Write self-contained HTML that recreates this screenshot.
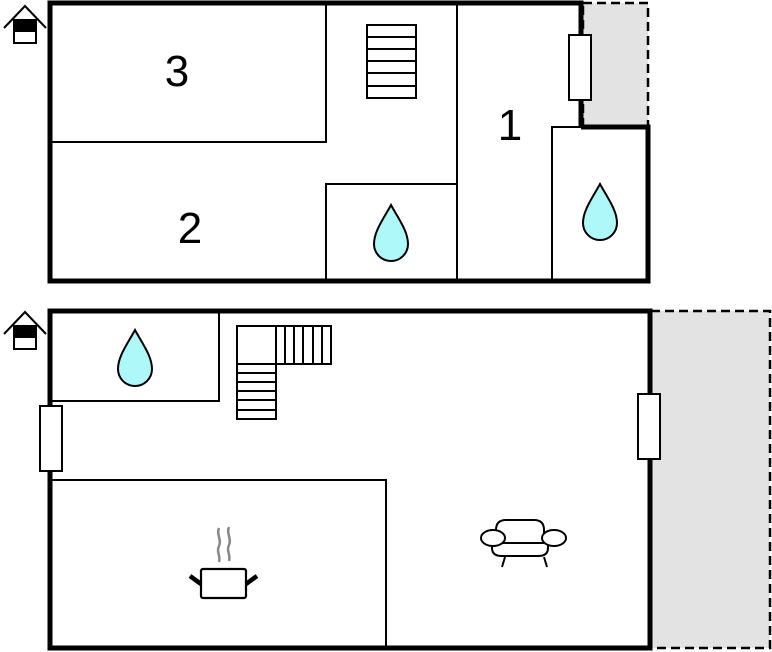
<!DOCTYPE html>
<html><head><meta charset="utf-8"><style>body{margin:0;background:#fff}svg{display:block}</style></head><body>
<svg width="772" height="652" viewBox="0 0 772 652" xmlns="http://www.w3.org/2000/svg">
<defs>
<g id="drop"><path d="M0,-28 C7,-15 17,-2 17,11 A17,17 0 0 1 -17,11 C-17,-2 -7,-15 0,-28Z" fill="#aef8fa" stroke="#000" stroke-width="2"/></g>
<g id="house" fill="none" stroke="#000" stroke-width="2"><polyline points="4,28 25,6 46,28"/><rect x="14" y="20" width="22" height="23" fill="#fff"/><rect x="14" y="20" width="22" height="11" fill="#000"/></g>
</defs>
<!-- top floor -->
<rect x="583" y="3" width="65" height="123" fill="#e3e3e3" stroke="#000" stroke-width="2.5" stroke-dasharray="9,5"/>
<g fill="none" stroke="#000" stroke-width="2">
<rect x="50" y="3" width="276" height="139"/>
<rect x="326" y="184" width="131" height="97"/>
<line x1="457" y1="3" x2="457" y2="281"/>
<rect x="552" y="127" width="96" height="154"/>
</g>
<path d="M581,127 V3 H50 V281 H648 V127 H581" fill="none" stroke="#000" stroke-width="5"/>
<rect x="569" y="35" width="22" height="65" fill="#fff" stroke="#000" stroke-width="2"/>
<g fill="none" stroke="#000" stroke-width="2"><rect x="367" y="25" width="49" height="73"/>
<line x1="367" y1="37" x2="416" y2="37"/><line x1="367" y1="49" x2="416" y2="49"/><line x1="367" y1="61" x2="416" y2="61"/><line x1="367" y1="73" x2="416" y2="73"/><line x1="367" y1="86" x2="416" y2="86"/></g>
<use href="#drop" x="391" y="233"/><use href="#drop" x="600" y="212"/>
<g font-family="Liberation Sans, sans-serif" font-size="44" text-anchor="middle"><text x="177" y="86">3</text><text x="190" y="243">2</text><text x="510" y="140">1</text></g>
<use href="#house" x="0" y="0"/>
<!-- bottom floor -->
<rect x="651" y="311" width="119" height="337" fill="#e3e3e3" stroke="#000" stroke-width="2.5" stroke-dasharray="9,5"/>
<g fill="none" stroke="#000" stroke-width="2">
<rect x="50" y="311" width="169" height="90"/>
<rect x="50" y="480" width="336" height="168"/>
<rect x="237" y="326" width="39" height="38"/>
<rect x="276" y="326" width="55" height="38"/>
<line x1="285" y1="326" x2="285" y2="364"/><line x1="294" y1="326" x2="294" y2="364"/><line x1="303" y1="326" x2="303" y2="364"/><line x1="313" y1="326" x2="313" y2="364"/><line x1="322" y1="326" x2="322" y2="364"/>
<rect x="237" y="364" width="39" height="55"/>
<line x1="237" y1="373" x2="276" y2="373"/><line x1="237" y1="382" x2="276" y2="382"/><line x1="237" y1="391" x2="276" y2="391"/><line x1="237" y1="400" x2="276" y2="400"/><line x1="237" y1="410" x2="276" y2="410"/>
</g>
<rect x="50" y="311" width="600" height="337" fill="none" stroke="#000" stroke-width="5"/>
<rect x="40" y="406" width="22" height="65" fill="#fff" stroke="#000" stroke-width="2"/>
<rect x="638" y="394" width="22" height="65" fill="#fff" stroke="#000" stroke-width="2"/>
<use href="#drop" x="135" y="358"/>
<use href="#house" x="0" y="306"/>
<!-- pot -->
<g fill="none" stroke="#888" stroke-width="2.5"><path d="M219,528 c-3,6 3,12 0,18 c-3,6 2,10 0,16"/><path d="M229,527 c-3,6 3,12 0,18 c-3,6 2,10 0,16"/></g>
<rect x="201" y="569" width="45" height="29" rx="2" fill="#fff" stroke="#000" stroke-width="2.2"/>
<line x1="190" y1="576" x2="201" y2="584" stroke="#000" stroke-width="4.5"/><line x1="257" y1="576" x2="246" y2="584" stroke="#000" stroke-width="4.5"/>
<!-- sofa -->
<g fill="#fff" stroke="#000" stroke-width="2">
<path d="M496,538 v-8 q0,-10 10,-10 h28 q10,0 10,10 v8"/>
<path d="M492,540 v8 q0,8 10,8 h36 q10,0 10,-8 v-8"/>
<line x1="500" y1="543" x2="544" y2="543"/>
<ellipse cx="493" cy="538" rx="12" ry="8"/><ellipse cx="554" cy="538" rx="12" ry="8"/>
<line x1="505" y1="557" x2="502" y2="567"/><line x1="544" y1="557" x2="547" y2="567"/>
</g>
</svg>
</body></html>
